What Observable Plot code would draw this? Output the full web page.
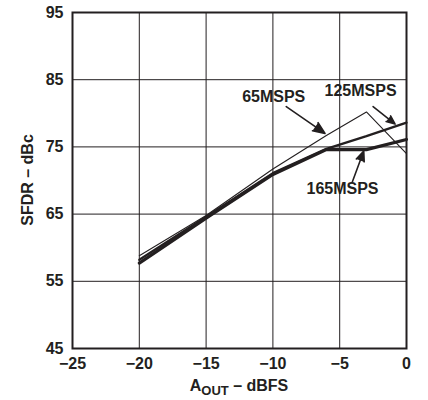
<!DOCTYPE html>
<html>
<head>
<meta charset="utf-8">
<script src="https://cdn.jsdelivr.net/npm/d3@7"></script>
<script src="https://cdn.jsdelivr.net/npm/@observablehq/plot@0.6"></script>
<style>
  html, body { margin: 0; padding: 0; background: #fff; }
</style>
</head>
<body>
<div id="chart"></div>
<script>
const xs = [-20, -15, -10, -6, -3, 0];
const sps65  = [58.8, 64.8, 71.7, 76.7, 80.2, 74.0];
const sps125 = [58.2, 64.6, 71.1, 74.7, 76.6, 78.6];
const sps165 = [57.7, 64.4, 70.9, 74.6, 74.6, 76.1];

const xTicks = [-25, -20, -15, -10, -5, 0];
const yTicks = [45, 55, 65, 75, 85, 95];
const xGrid = [-20, -15, -10, -5];
const yGrid = [55, 65, 75, 85];

const seriesNames = ["65MSPS", "125MSPS", "165MSPS"];
const labelX = [-9.94, -3.44, -4.79];
const labelY = [82.5, 83.4, 68.8];
const arrowX1 = [-9.0, -2.5, -4.05];
const arrowY1 = [81.0, 81.0, 69.8];
const arrowX2 = [-6.1, -0.85, -3.2];
const arrowY2 = [77.0, 78.4, 74.4];

const ink = "#231f20";

const rows = [];
[[sps65, "65MSPS"], [sps125, "125MSPS"], [sps165, "165MSPS"]].forEach(([vals, s]) => {
  vals.forEach((v, i) => rows.push({x: xs[i], y: v, s}));
});
const widths = {"65MSPS": 1.1, "125MSPS": 2.3, "165MSPS": 3.2};

const labels = seriesNames.map((s, i) => ({s, x: labelX[i], y: labelY[i]}));
const arrows = seriesNames.map((s, i) => ({x1: arrowX1[i], y1: arrowY1[i], x2: arrowX2[i], y2: arrowY2[i]}));

const chart = Plot.plot({
  width: 428,
  height: 400,
  marginLeft: 72,
  marginRight: 22,
  marginTop: 12,
  marginBottom: 52,
  style: {fontFamily: "'Liberation Sans', Arial, sans-serif", fontWeight: "bold", fontSize: "16px", color: ink, background: "#fff"},
  x: {domain: [-25, 0]},
  y: {domain: [45, 95]},
  marks: [
    Plot.ruleX(xGrid, {stroke: ink, strokeWidth: 1}),
    Plot.ruleY(yGrid, {stroke: ink, strokeWidth: 1}),
    ...seriesNames.map(s => Plot.line(rows.filter(r => r.s === s), {x: "x", y: "y", stroke: ink, strokeWidth: widths[s], strokeLinejoin: "miter"})),
    Plot.frame({stroke: ink, strokeWidth: 2}),
    Plot.arrow(arrows, {x1: "x1", y1: "y1", x2: "x2", y2: "y2", stroke: ink, fill: ink, strokeWidth: 1.6, headLength: 12, headAngle: 45}),
    Plot.text(labels, {x: "x", y: "y", text: "s", fill: ink, fontSize: 16, fontWeight: "bold"}),
    Plot.axisX(xTicks, {tickSize: 0, tickPadding: 9, label: null, fontSize: 16, fontWeight: "bold", fill: ink}),
    Plot.axisY(yTicks, {tickSize: 0, tickPadding: 9, label: null, fontSize: 16, fontWeight: "bold", fill: ink})
  ]
});

document.getElementById("chart").appendChild(chart);

const svg = d3.select(chart);
const xl = svg.append("text")
  .attr("x", 239).attr("y", 391)
  .attr("text-anchor", "middle")
  .attr("fill", ink)
  .style("font-family", "'Liberation Sans', Arial, sans-serif")
  .style("font-weight", "bold")
  .style("font-size", "16px");
xl.append("tspan").text("A");
xl.append("tspan").attr("dy", 4).style("font-size", "13px").text("OUT");
xl.append("tspan").attr("dy", -4).text(" – dBFS");

svg.append("text")
  .attr("transform", "translate(33,180) rotate(-90)")
  .attr("text-anchor", "middle")
  .attr("fill", ink)
  .style("font-family", "'Liberation Sans', Arial, sans-serif")
  .style("font-weight", "bold")
  .style("font-size", "16px")
  .text("SFDR – dBc");
</script>
</body>
</html>
